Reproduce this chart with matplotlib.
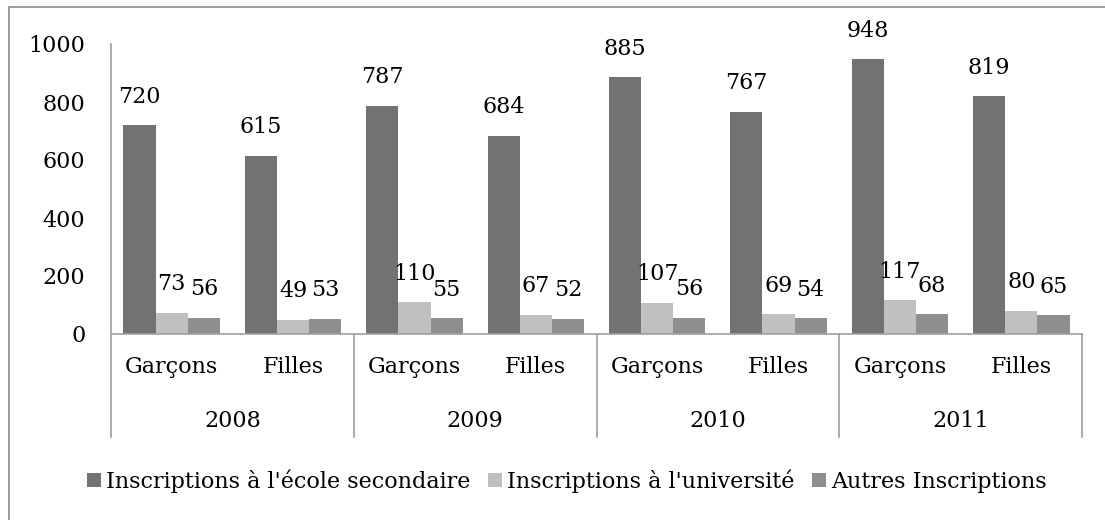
import matplotlib
matplotlib.use("Agg")
import matplotlib.pyplot as plt
from matplotlib.lines import Line2D
from matplotlib.patches import Rectangle
import numpy as np

years = ["2008", "2009", "2010", "2011"]
genders = ["Garçons", "Filles"]
series_names = ["Inscriptions à l'école secondaire", "Inscriptions à l'université", "Autres Inscriptions"]
secondaire = [720, 615, 787, 684, 885, 767, 948, 819]
universite = [73, 49, 110, 67, 107, 69, 117, 80]
autres = [56, 53, 55, 52, 56, 54, 68, 65]
colors = ["#727272", "#c0c0c0", "#8f8f8f"]

plt.rcParams['font.family'] = ['DejaVu Serif']
FS = 16

W, H = 1105, 520
fig = plt.figure(figsize=(W / 100, H / 100), dpi=100)
ax = fig.add_axes([111 / W, 1 - 334 / H, (1082 - 111) / W, (334 - 44) / H])

n = len(secondaire)
x = np.arange(n)
bw = 0.265
data = [secondaire, universite, autres]
for i, (vals, c, name) in enumerate(zip(data, colors, series_names)):
    pos = x + (i - 1) * bw
    ax.bar(pos, vals, width=bw, color=c, label=name, zorder=2)
    for p, v in zip(pos, vals):
        ax.annotate(str(v), (p, v), xytext=(0, 20.5), textcoords="offset points",
                    ha="center", va="center", fontsize=FS)

ax.set_xlim(-0.5, n - 0.5)
ax.set_ylim(0, 1000)
ax.set_yticks([0, 200, 400, 600, 800, 1000])
ax.tick_params(axis='y', length=0, labelsize=FS, pad=18.5)
ax.set_xticks([])
for s in ["top", "right"]:
    ax.spines[s].set_visible(False)
for s in ["left", "bottom"]:
    ax.spines[s].set_color("#a0a0a0")
    ax.spines[s].set_linewidth(1.2)

trans = ax.get_xaxis_transform()
axh = 334 - 44
for i in range(n):
    ax.text(x[i], -(367 - 334) / axh, genders[i % 2], transform=trans,
            ha="center", va="center", fontsize=FS)
for j, yr in enumerate(years):
    ax.text(2 * j + 0.5, -(421 - 334) / axh, yr, transform=trans,
            ha="center", va="center", fontsize=FS)
for k in range(len(years) + 1):
    xs = 2 * k - 0.5
    ax.add_line(Line2D([xs, xs], [0, -(437 - 334) / axh], transform=trans,
                       color="#a0a0a0", lw=1.2, clip_on=False))

fig.legend(loc="center", bbox_to_anchor=(567 / W, 1 - 481 / H), ncol=3,
           frameon=False, fontsize=FS, handlelength=0.63, handleheight=0.63,
           handletextpad=0.22, columnspacing=0.8, borderpad=0)

fig.patches.append(Rectangle((9 / W, -0.1), 1.2, 1 - 7 / H + 0.1, transform=fig.transFigure,
                             fill=False, edgecolor="#8c8c8c", lw=1.2))

fig.savefig("out.png", dpi=100)
